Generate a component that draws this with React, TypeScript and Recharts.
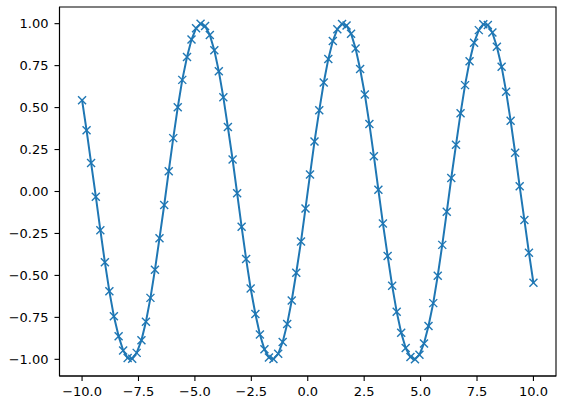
import React from 'react'
import { LineChart, Line, XAxis, YAxis, ReferenceArea } from 'recharts'

const xs = [
  -10.0, -9.8, -9.6, -9.39, -9.19, -8.99, -8.79, -8.59, -8.38, -8.18,
  -7.98, -7.78, -7.58, -7.37, -7.17, -6.97, -6.77, -6.57, -6.36, -6.16,
  -5.96, -5.76, -5.56, -5.35, -5.15, -4.95, -4.75, -4.55, -4.34, -4.14,
  -3.94, -3.74, -3.54, -3.33, -3.13, -2.93, -2.73, -2.53, -2.32, -2.12,
  -1.92, -1.72, -1.52, -1.31, -1.11, -0.91, -0.71, -0.51, -0.3, -0.1,
  0.1, 0.3, 0.51, 0.71, 0.91, 1.11, 1.31, 1.52, 1.72, 1.92,
  2.12, 2.32, 2.53, 2.73, 2.93, 3.13, 3.33, 3.54, 3.74, 3.94,
  4.14, 4.34, 4.55, 4.75, 4.95, 5.15, 5.35, 5.56, 5.76, 5.96,
  6.16, 6.36, 6.57, 6.77, 6.97, 7.17, 7.37, 7.58, 7.78, 7.98,
  8.18, 8.38, 8.59, 8.79, 8.99, 9.19, 9.39, 9.6, 9.8, 10.0,
]

const ys = [
  0.544, 0.3646, 0.1703, -0.0308, -0.2308, -0.4213, -0.5947, -0.7439, -0.8629, -0.9467,
  -0.9921, -0.9971, -0.9615, -0.8869, -0.7761, -0.6338, -0.4658, -0.2787, -0.0804, 0.1213,
  0.318, 0.5017, 0.6651, 0.8014, 0.9051, 0.972, 0.9994, 0.9861, 0.9327, 0.8414,
  0.7158, 0.5612, 0.3837, 0.1906, -0.0103, -0.2107, -0.4026, -0.5781, -0.73, -0.8523,
  -0.9399, -0.9893, -0.9985, -0.967, -0.8962, -0.7889, -0.6496, -0.4839, -0.2984, -0.1008,
  0.1008, 0.2984, 0.4839, 0.6496, 0.7889, 0.8962, 0.967, 0.9985, 0.9893, 0.9399,
  0.8523, 0.73, 0.5781, 0.4026, 0.2107, 0.0103, -0.1906, -0.3837, -0.5612, -0.7158,
  -0.8414, -0.9327, -0.9861, -0.9994, -0.972, -0.9051, -0.8014, -0.6651, -0.5017, -0.318,
  -0.1213, 0.0804, 0.2787, 0.4658, 0.6338, 0.7761, 0.8869, 0.9615, 0.9971, 0.9921,
  0.9467, 0.8629, 0.7439, 0.5947, 0.4213, 0.2308, 0.0308, -0.1703, -0.3646, -0.544,
]

const xTicks = [-10, -7.5, -5, -2.5, 0, 2.5, 5, 7.5, 10]
const yTicks = [-1, -0.75, -0.5, -0.25, 0, 0.25, 0.5, 0.75, 1]

const data = xs.map((x, i) => ({ x, y: ys[i] }))

const BLUE = '#1f77b4'
const X_DOMAIN: [number, number] = [-11, 11]
const Y_DOMAIN: [number, number] = [-1.0993, 1.0993]

const fmt = (digits: number) => (v: number) => v.toFixed(digits).replace('-', '\u2212')

const tickStyle = { fontFamily: 'DejaVu Sans', fontSize: 13, fill: '#000' }

function XMark(props: any) {
  const { cx, cy } = props
  if (cx == null || cy == null) return <g key={`m-${props.index}`} />
  const r = 4
  return (
    <g key={`m-${props.index}`}>
      <line x1={cx - r} y1={cy - r} x2={cx + r} y2={cy + r} stroke={BLUE} strokeWidth={1.4} />
      <line x1={cx - r} y1={cy + r} x2={cx + r} y2={cy - r} stroke={BLUE} strokeWidth={1.4} />
    </g>
  )
}

export default function App() {
  return (
    <div style={{ position: 'absolute', left: 0, top: 0, background: '#fff' }}>
      <LineChart width={564} height={406} data={data} margin={{ top: 7, right: 8, bottom: 0, left: 0 }}>
        <XAxis
          dataKey="x"
          type="number"
          domain={X_DOMAIN}
          ticks={xTicks}
          tickFormatter={fmt(1)}
          allowDataOverflow
          height={30}
          tick={tickStyle}
          tickSize={5}
          tickMargin={6}
          stroke="#000"
          axisLine={{ stroke: '#000', strokeWidth: 1.1 }}
          tickLine={{ stroke: '#000', strokeWidth: 1.1 }}
        />
        <YAxis
          type="number"
          domain={Y_DOMAIN}
          ticks={yTicks}
          tickFormatter={fmt(2)}
          allowDataOverflow
          width={59.5}
          tick={tickStyle}
          tickSize={5}
          tickMargin={6}
          stroke="#000"
          axisLine={{ stroke: '#000', strokeWidth: 1.1 }}
          tickLine={{ stroke: '#000', strokeWidth: 1.1 }}
        />
        <ReferenceArea
          x1={X_DOMAIN[0]}
          x2={X_DOMAIN[1]}
          y1={Y_DOMAIN[0]}
          y2={Y_DOMAIN[1]}
          fill="none"
          stroke="#000"
          strokeWidth={1.1}
          ifOverflow="visible"
        />
        <Line
          type="linear"
          dataKey="y"
          stroke={BLUE}
          strokeWidth={2}
          dot={(p: any) => <XMark key={`m-${p.index}`} {...p} />}
          activeDot={false}
          isAnimationActive={false}
        />
      </LineChart>
    </div>
  )
}
